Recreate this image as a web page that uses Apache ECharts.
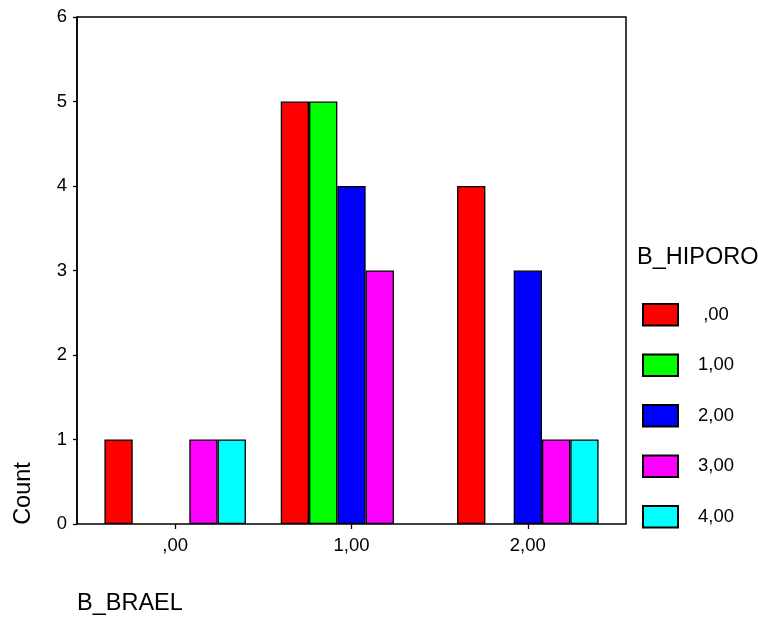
<!DOCTYPE html>
<html>
<head>
<meta charset="utf-8">
<script src="https://cdn.jsdelivr.net/npm/echarts@6/dist/echarts.min.js"></script>
<style>html,body{margin:0;padding:0;background:#fff}#c{width:758px;height:619px}</style>
</head>
<body>
<div id="c"></div>
<script>
var categories = [',00', '1,00', '2,00'];
var seriesNames = [',00', '1,00', '2,00', '3,00', '4,00'];
var s0 = [1, 5, 4];
var s1 = [0, 5, 0];
var s2 = [0, 4, 3];
var s3 = [1, 3, 1];
var s4 = [1, 0, 1];
var yTicks = [0, 1, 2, 3, 4, 5, 6];
var colors = ['#ff0000', '#00ff00', '#0000ff', '#ff00ff', '#00ffff'];

var FONT = '"Liberation Sans", Arial, sans-serif';
var allSeries = [s0, s1, s2, s3, s4];

var chart = echarts.init(document.getElementById('c'), null, {renderer: 'canvas'});
chart.setOption({
  animation: false,
  backgroundColor: '#ffffff',
  textStyle: {fontFamily: FONT},
  title: {
    text: 'B_HIPORO', left: 632, top: 241,
    textStyle: {fontFamily: FONT, fontSize: 23.5, fontWeight: 'normal', color: '#000'}
  },
  legend: {
    left: 637, top: 298, orient: 'vertical',
    itemWidth: 35, itemHeight: 21.5, itemGap: 27,
    icon: 'rect',
    data: seriesNames,
    formatter: '{a|{name}}',
    textStyle: {
      fontFamily: FONT, fontSize: 18.5, color: '#000',
      rich: {a: {width: 66, align: 'center', fontSize: 18.5, fontFamily: FONT, color: '#000'}}
    }
  },
  grid: [
    {left: 87, right: 142, top: 17, bottom: 95, show: false},
    {left: 77, right: 132, top: 17, bottom: 95, show: true, borderColor: '#000', borderWidth: 1.5, backgroundColor: 'transparent', z: 1}
  ],
  xAxis: [
    {
      gridIndex: 0, type: 'category', data: categories, boundaryGap: true,
      axisLine: {show: false},
      axisTick: {show: true, alignWithLabel: true, length: 5, lineStyle: {color: '#000', width: 1.3}},
      axisLabel: {margin: 12, fontSize: 18.5, fontFamily: FONT, color: '#000'},
      splitLine: {show: false}
    },
    {
      gridIndex: 1, type: 'value', min: 0, max: 1, show: false
    }
  ],
  yAxis: [
    {gridIndex: 0, type: 'value', min: 0, max: 6, interval: 1, show: false},
    {
      gridIndex: 1, type: 'value', min: yTicks[0], max: yTicks[yTicks.length - 1], interval: 1,
      axisLine: {show: true, lineStyle: {color: '#000', width: 1.5}},
      axisTick: {show: true, length: 4, lineStyle: {color: '#000', width: 1.3}},
      axisLabel: {margin: 10, fontSize: 18.5, fontFamily: FONT, color: '#000'},
      splitLine: {show: false}
    }
  ],
  graphic: [
    {type: 'text', x: 24, y: 493.5, rotation: Math.PI / 2,
     style: {text: 'Count', font: '23.5px ' + FONT, fill: '#000', textAlign: 'center', textVerticalAlign: 'middle'}},
    {type: 'text', x: 77, y: 603.5,
     style: {text: 'B_BRAEL', font: '23.5px ' + FONT, fill: '#000', textAlign: 'left', textVerticalAlign: 'middle'}}
  ],
  series: allSeries.map(function (arr, i) {
    return {
      name: seriesNames[i], type: 'bar', xAxisIndex: 0, yAxisIndex: 0,
      barWidth: 28.3, barGap: '0%', z: 3,
      itemStyle: {color: colors[i], borderColor: '#000', borderWidth: 1.3},
      data: arr.map(function (v) { return v === 0 ? '-' : v; })
    };
  })
});
</script>
</body>
</html>
